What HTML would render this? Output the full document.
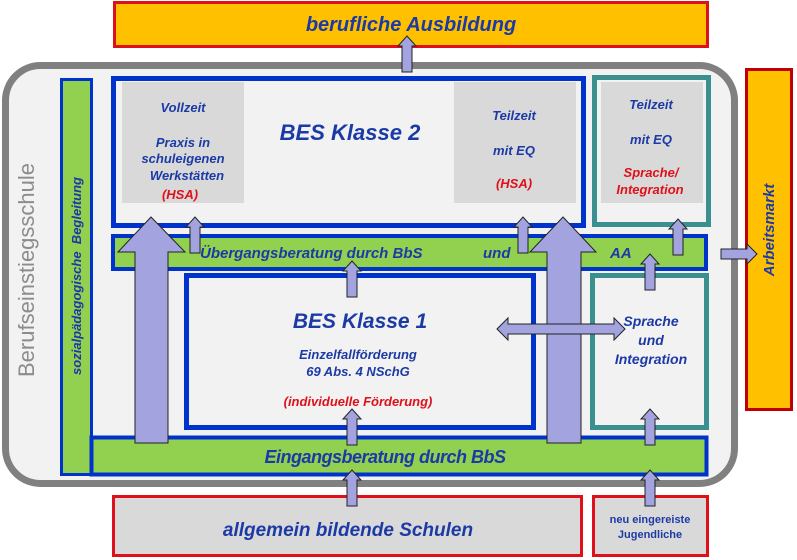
<!DOCTYPE html>
<html><head><meta charset="utf-8"><style>html,body{margin:0;padding:0;background:#fff}svg{display:block}text{font-family:"Liberation Sans",sans-serif;font-weight:bold;font-style:italic;fill:#1c3aa6}</style></head><body>
<svg width="797" height="560" viewBox="0 0 797 560" xmlns="http://www.w3.org/2000/svg">
<defs><g id="sa"><polygon points="-5,0 -5,-26 -9,-26 0,-36 9,-26 5,-26 5,0" fill="#a3a3e0" stroke="#222" stroke-width="1"/></g></defs>
<rect x="114.5" y="2.5" width="593" height="44" fill="#ffc000" stroke="#e0101a" stroke-width="3"/>
<text x="411" y="31" font-size="20" text-anchor="middle">berufliche Ausbildung</text>
<rect x="5.5" y="65.5" width="729" height="418" rx="35" fill="#f2f2f2" stroke="#808080" stroke-width="7"/>
<text transform="translate(34,270) rotate(-90)" font-size="22" text-anchor="middle" style="font-style:normal;font-weight:normal;fill:#8c8c8c">Berufseinstiegsschule</text>
<rect x="61.5" y="79.5" width="30" height="395" fill="#92d050" stroke="#0033cc" stroke-width="3"/>
<rect x="91.5" y="437.5" width="615" height="37" fill="#92d050" stroke="#0033cc" stroke-width="4"/>
<text transform="translate(81,276) rotate(-90)" font-size="13" text-anchor="middle" xml:space="preserve">sozialpädagogische  Begleitung</text>
<text x="385" y="463" font-size="18" text-anchor="middle" letter-spacing="-0.5">Eingangsberatung durch BbS</text>
<rect x="113.5" y="78.5" width="470" height="147" fill="#f2f2f2" stroke="#0033cc" stroke-width="5"/>
<rect x="122" y="82" width="122" height="121" fill="#d9d9d9"/>
<rect x="454" y="82" width="122" height="121" fill="#d9d9d9"/>
<text x="350" y="140" font-size="22" text-anchor="middle">BES Klasse 2</text>
<g font-size="13" text-anchor="middle">
<text x="183" y="112">Vollzeit</text>
<text x="183" y="147">Praxis in</text>
<text x="183" y="163">schuleigenen</text>
<text x="187" y="180">Werkstätten</text>
<text x="180" y="199" style="fill:#e0101a">(HSA)</text>
<text x="514" y="120">Teilzeit</text>
<text x="514" y="155">mit EQ</text>
<text x="514" y="188" style="fill:#e0101a">(HSA)</text>
</g>
<rect x="594.5" y="77.5" width="114" height="147" fill="#f2f2f2" stroke="#3a8f8f" stroke-width="5"/>
<rect x="601" y="82" width="102" height="121" fill="#d9d9d9"/>
<g font-size="13" text-anchor="middle">
<text x="651" y="109">Teilzeit</text>
<text x="651" y="144">mit EQ</text>
<text x="651" y="177" style="fill:#e0101a">Sprache/</text>
<text x="650" y="194" style="fill:#e0101a">Integration</text>
</g>
<rect x="113" y="236" width="593" height="33" fill="#92d050" stroke="#0033cc" stroke-width="4"/>
<text x="200" y="258" font-size="15">Übergangsberatung durch BbS</text>
<text x="483" y="258" font-size="15">und</text>
<text x="610" y="258" font-size="15">AA</text>
<rect x="186.5" y="275.5" width="347" height="152" fill="#f2f2f2" stroke="#0033cc" stroke-width="5"/>
<text x="360" y="328" font-size="21" text-anchor="middle">BES Klasse 1</text>
<g font-size="13" text-anchor="middle">
<text x="358" y="359">Einzelfallförderung</text>
<text x="358" y="376">69 Abs. 4 NSchG</text>
<text x="358" y="406" style="fill:#e0101a">(individuelle Förderung)</text>
</g>
<rect x="592.5" y="275.5" width="114" height="152" fill="#f2f2f2" stroke="#3a8f8f" stroke-width="5"/>
<g font-size="14" text-anchor="middle">
<text x="651" y="326">Sprache</text>
<text x="651" y="345">und</text>
<text x="651" y="364">Integration</text>
</g>
<rect x="746.5" y="69.5" width="45" height="340" fill="#ffc000" stroke="#c00000" stroke-width="3"/>
<text transform="translate(774,230) rotate(-90)" font-size="15" text-anchor="middle">Arbeitsmarkt</text>
<rect x="113.5" y="496.5" width="468" height="59" fill="#d9d9d9" stroke="#e0101a" stroke-width="3"/>
<text x="348" y="536" font-size="19" text-anchor="middle">allgemein bildende Schulen</text>
<rect x="593.5" y="496.5" width="114" height="59" fill="#d9d9d9" stroke="#e0101a" stroke-width="3"/>
<text x="650" y="523" font-size="11" text-anchor="middle" style="font-style:normal">neu eingereiste</text>
<text x="650" y="538" font-size="11" text-anchor="middle" style="font-style:normal">Jugendliche</text>
<polygon points="135,443 135,252 118,252 151,217 185,252 168,252 168,443" fill="#a3a3e0" stroke="#222" stroke-width="1"/>
<polygon points="547,443 547,252 530,252 563,217 596,252 581,252 581,443" fill="#a3a3e0" stroke="#222" stroke-width="1"/>
<polygon points="497,329 508,318 508,324 614,324 614,318 625,329 614,340 614,334 508,334 508,340" fill="#a3a3e0" stroke="#222" stroke-width="1"/>
<polygon points="721,249 747,249 747,244 757,254 747,264 747,259 721,259" fill="#a3a3e0" stroke="#222" stroke-width="1"/>
<use href="#sa" transform="translate(407,72)"/>
<use href="#sa" transform="translate(195,253)"/>
<use href="#sa" transform="translate(352,297)"/>
<use href="#sa" transform="translate(523,253)"/>
<use href="#sa" transform="translate(678,255)"/>
<use href="#sa" transform="translate(650,290)"/>
<use href="#sa" transform="translate(352,445)"/>
<use href="#sa" transform="translate(352,506)"/>
<use href="#sa" transform="translate(650,445)"/>
<use href="#sa" transform="translate(650,506)"/>
</svg>
</body></html>
